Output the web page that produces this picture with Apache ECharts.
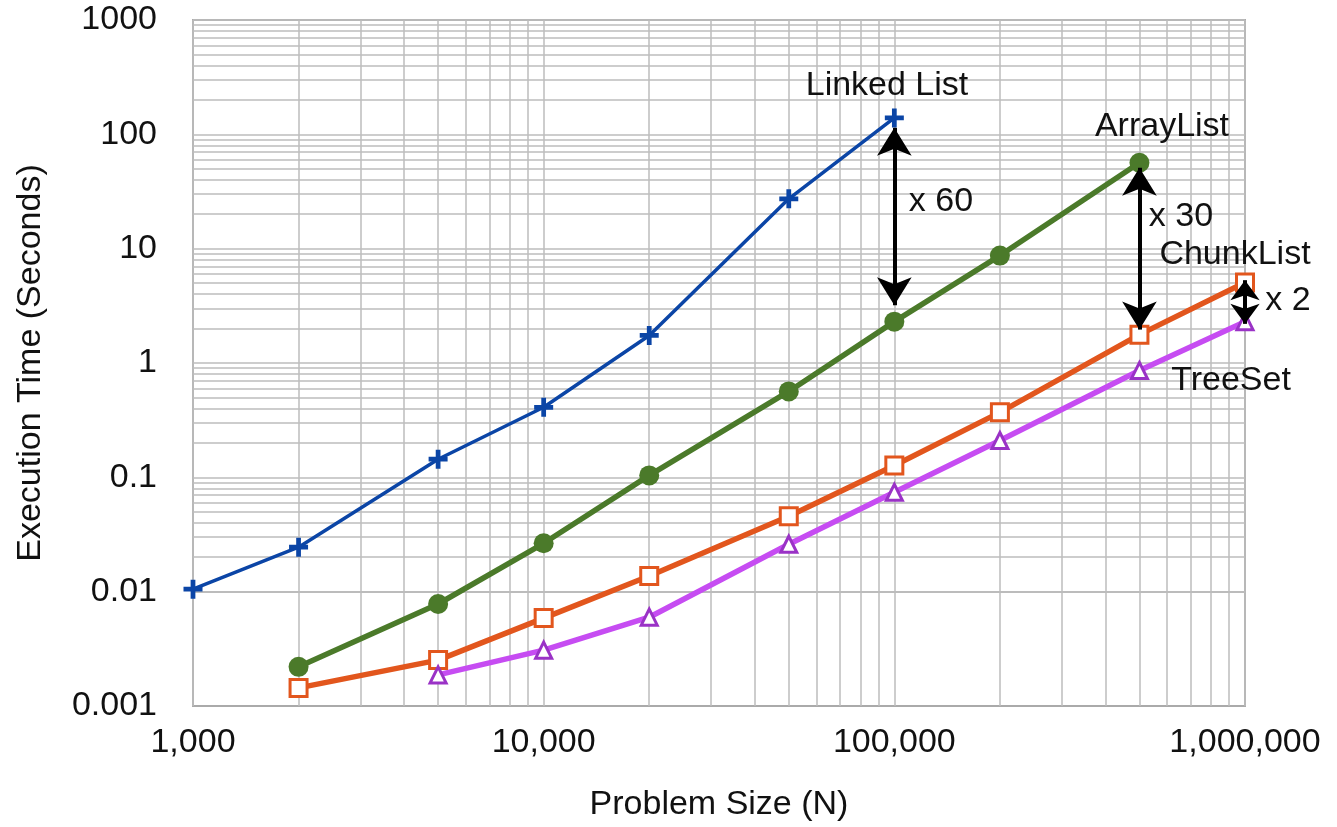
<!DOCTYPE html>
<html>
<head>
<meta charset="utf-8">
<title>Execution time vs problem size</title>
<script src="https://cdn.jsdelivr.net/npm/echarts@6/dist/echarts.min.js"></script>
<style>
  html, body { margin: 0; padding: 0; background: #ffffff; }
  #chart { width: 1337px; height: 827px; }
</style>
</head>
<body>
<div id="chart"></div>
<script>
// problem sizes N
var sizes = [1000, 2000, 5000, 10000, 20000, 50000, 100000, 200000, 500000, 1000000];

// execution time (seconds), null = not measured
var linkedList = [0.0105, 0.0245, 0.144, 0.41, 1.74, 27.3, 139, null, null, null];
var arrayList  = [null, 0.0022, 0.0078, 0.0265, 0.104, 0.564, 2.3, 8.7, 56.4, null];
var chunkList  = [null, 0.00144, 0.00252, 0.00587, 0.0137, 0.0456, 0.127, 0.37, 1.77, 5.05];
var treeSet    = [null, null, 0.00187, 0.00308, 0.00598, 0.026, 0.074, 0.21, 0.86, 2.3];

var xTickLabels = ['1,000', '10,000', '100,000', '1,000,000'];
var yTickLabels = ['0.001', '0.01', '0.1', '1', '10', '100', '1000'];

// ratio arrows: at size N, from time to time
var arrowX    = [100000, 500000, 1000000];
var arrowFrom = [114, 51, 5.3];
var arrowTo   = [3.2, 1.96, 2.2];

var FONT = '"Liberation Sans", Arial, Helvetica, sans-serif';

function pairs(ys) {
	var out = [];
	for (var i = 0; i < sizes.length; i++) {
		if (ys[i] != null) out.push([sizes[i], ys[i]]);
	}
	return out;
}

// grid lines at 1..9 x each decade (log axis minor lines are not placed like that)
var gridLines = [];
for (var d = 1000; d < 1000000; d *= 10) {
	for (var m = 1; m <= 9; m++) gridLines.push({ xAxis: m * d });
}
gridLines.push({ xAxis: 1000000 });
var yDecades = [0.001, 0.01, 0.1, 1, 10, 100];
yDecades.forEach(function (d) {
	for (var m = 1; m <= 9; m++) gridLines.push({ yAxis: +(m * d).toPrecision(3) });
});
gridLines.push({ yAxis: 1000 });

var arrowLines = [];
for (var i = 0; i < arrowX.length; i++) {
	var sz = i === 2 ? [22, 20] : [26, 28];
	arrowLines.push([
		{ coord: [arrowX[i], arrowFrom[i]], symbolSize: sz },
		{ coord: [arrowX[i], arrowTo[i]], symbolSize: sz }
	]);
}

var chart = echarts.init(document.getElementById('chart'));

chart.setOption({
	animation: false,
	backgroundColor: '#ffffff',
	textStyle: { fontFamily: FONT },
	grid: {
		left: 193, right: 92, top: 20, bottom: 120,
		show: true, borderColor: '#aaaaaa', borderWidth: 2, backgroundColor: 'transparent'
	},
	xAxis: {
		type: 'log', logBase: 10, min: 1000, max: 1000000, splitNumber: 3,
		name: 'Problem Size (N)', nameLocation: 'middle', nameGap: 82,
		nameTextStyle: { fontSize: 34, color: '#111', fontFamily: FONT },
		axisLine: { show: false },
		axisTick: { show: false },
		splitLine: { show: false },
		axisLabel: {
			fontSize: 34, color: '#111', margin: 20, fontFamily: FONT,
			formatter: function (v) {
				return xTickLabels[Math.round(Math.log10(v)) - 3] || '';
			}
		}
	},
	yAxis: {
		type: 'log', logBase: 10, min: 0.001, max: 1000, splitNumber: 6,
		name: 'Execution Time (Seconds)', nameLocation: 'middle', nameGap: 145, nameRotate: 90,
		nameTextStyle: { fontSize: 34, color: '#111', fontFamily: FONT },
		axisLine: { show: false },
		axisTick: { show: false },
		splitLine: { show: false },
		axisLabel: {
			fontSize: 34, color: '#111', margin: 36, fontFamily: FONT,
			formatter: function (v) {
				return yTickLabels[Math.round(Math.log10(v)) + 3] || '';
			}
		}
	},
	series: [
		{
			name: 'grid', type: 'line', data: [], z: 1, silent: true,
			markLine: {
				z: 1, silent: true, symbol: 'none', animation: false,
				label: { show: false },
				lineStyle: { color: '#bdbdbd', width: 1.5, type: 'solid' },
				emphasis: { disabled: true },
				data: gridLines
			}
		},
		{
			name: 'Linked List', type: 'line', z: 3, data: pairs(linkedList),
			symbol: 'path://M6,0H10V6H16V10H10V16H6V10H0V6H6Z', symbolSize: 19,
			itemStyle: { color: '#0b45a6' },
			lineStyle: { color: '#0b45a6', width: 3.5 }
		},
		{
			name: 'ArrayList', type: 'line', z: 4, data: pairs(arrayList),
			symbol: 'circle', symbolSize: 20,
			itemStyle: { color: '#4b7a2a' },
			lineStyle: { color: '#4b7a2a', width: 5.5 }
		},
		{
			name: 'ChunkList', type: 'line', z: 3, data: pairs(chunkList),
			symbol: 'rect', symbolSize: 17,
			itemStyle: { color: '#ffffff', borderColor: '#e2561d', borderWidth: 3 },
			lineStyle: { color: '#e2561d', width: 5.5 }
		},
		{
			name: 'TreeSet', type: 'line', z: 3, data: pairs(treeSet),
			symbol: 'triangle', symbolSize: 16,
			itemStyle: { color: '#ffffff', borderColor: '#9a32c6', borderWidth: 3 },
			lineStyle: { color: '#c64cf2', width: 5.5 }
		},
		{
			name: 'ratios', type: 'line', data: [], z: 6, silent: true,
			markLine: {
				z: 6, silent: true, animation: false,
				symbol: ['arrow', 'arrow'],
				label: { show: false },
				lineStyle: { color: '#000000', width: 4, type: 'solid' },
				itemStyle: { color: '#000000' },
				emphasis: { disabled: true },
				data: arrowLines
			}
		}
	],
	graphic: [
		{ type: 'text', x: 887, y: 86, z: 10, style: { text: 'Linked List', font: '34px ' + FONT, fill: '#111', align: 'center', verticalAlign: 'middle' } },
		{ type: 'text', x: 941, y: 202, z: 10, style: { text: 'x 60', font: '34px ' + FONT, fill: '#111', align: 'center', verticalAlign: 'middle' } },
		{ type: 'text', x: 1162, y: 127, z: 10, style: { text: 'ArrayList', font: '34px ' + FONT, fill: '#111', align: 'center', verticalAlign: 'middle' } },
		{ type: 'text', x: 1181, y: 217, z: 10, style: { text: 'x 30', font: '34px ' + FONT, fill: '#111', align: 'center', verticalAlign: 'middle' } },
		{ type: 'text', x: 1235, y: 255, z: 10, style: { text: 'ChunkList', font: '34px ' + FONT, fill: '#111', align: 'center', verticalAlign: 'middle' } },
		{ type: 'text', x: 1288, y: 301, z: 10, style: { text: 'x 2', font: '34px ' + FONT, fill: '#111', align: 'center', verticalAlign: 'middle' } },
		{ type: 'text', x: 1231, y: 381, z: 10, style: { text: 'TreeSet', font: '34px ' + FONT, fill: '#111', align: 'center', verticalAlign: 'middle' } }
	]
});
</script>
</body>
</html>
